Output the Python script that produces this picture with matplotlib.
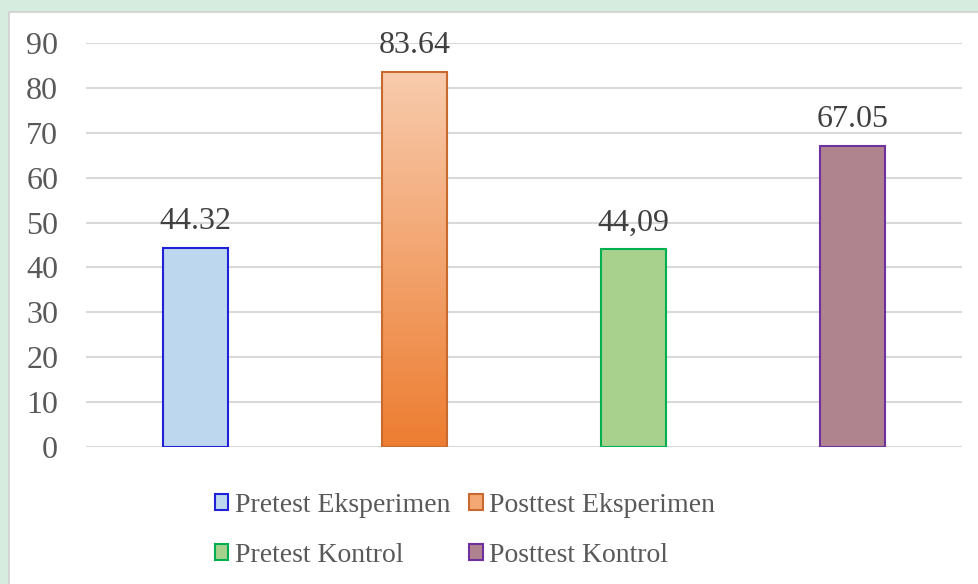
import numpy as np
import matplotlib
matplotlib.use("Agg")
import matplotlib.pyplot as plt
from matplotlib.colors import LinearSegmentedColormap
from matplotlib.patches import Rectangle, Patch

kategori = ["Pretest Eksperimen", "Posttest Eksperimen", "Pretest Kontrol", "Posttest Kontrol"]
nilai = [44.32, 83.64, 44.09, 67.05]
label_nilai = ["44.32", "83.64", "44,09", "67.05"]
yticks = [0, 10, 20, 30, 40, 50, 60, 70, 80, 90]

warna_isi = ["#BDD7EE", "#F4A874", "#A9D18E", "#B0848E"]
warna_tepi = ["#2020D8", "#C8692E", "#00B050", "#7030A0"]

plt.rcParams["font.family"] = ["Liberation Serif", "DejaVu Serif"]

W, H = 979, 584
fig = plt.figure(figsize=(W / 100, H / 100), dpi=100)
fig.patch.set_facecolor("#D5ECDF")

# kotak grafik (putih, tepi abu)
fig.patches.append(Rectangle((9 / W, -0.01), 1.0, 1 - 12 / H + 0.01,
                             transform=fig.transFigure, facecolor="white",
                             edgecolor="#D0D0D0", linewidth=1.2, zorder=-5))

ax = fig.add_axes([86 / W, 1 - 447 / H, (962 - 86) / W, (447 - 43) / H])
ax.set_facecolor("none")

x = np.arange(len(kategori))
bars = ax.bar(x, nilai, width=0.297, color=warna_isi, edgecolor=warna_tepi,
              linewidth=1.5, zorder=3)

# gradasi untuk batang posttest eksperimen
grad_cmap = LinearSegmentedColormap.from_list("oranye", ["#ED7D31", "#F8CBAD"])
b = bars[1]
gradien = np.linspace(0, 1, 256).reshape(-1, 1)
img = ax.imshow(gradien, cmap=grad_cmap, origin="lower", aspect="auto",
                extent=[b.get_x(), b.get_x() + b.get_width(), 0, b.get_height()],
                zorder=2.5)
img.set_clip_path(b)
b.set_facecolor("none")

for xi, v, lab in zip(x, nilai, label_nilai):
    ax.annotate(lab, (xi, v), xytext=(0, 13.5), textcoords="offset points",
                ha="center", va="baseline", fontsize=23, color="#404040")

ax.set_xlim(-0.5, len(kategori) - 0.5)
ax.set_ylim(0, 90)
ax.set_yticks(yticks)
ax.set_xticks([])
ax.tick_params(axis="y", length=0, pad=20, labelsize=23, labelcolor="#595959")
ax.grid(axis="y", color="#D9D9D9", linewidth=1.5, zorder=0)
ax.set_axisbelow(True)
for s in ax.spines.values():
    s.set_visible(False)

handles = [Patch(facecolor=f, edgecolor=e, linewidth=1.5) for f, e in zip(warna_isi, warna_tepi)]
urutan = [0, 2, 1, 3]  # isi legenda per baris
fig.legend([handles[i] for i in urutan], [kategori[i] for i in urutan],
           loc="center", bbox_to_anchor=(465 / W, 1 - 530 / H),
           ncol=2, frameon=False, fontsize=20, labelcolor="#595959",
           handlelength=0.5, handleheight=0.5, handletextpad=0.22,
           columnspacing=0.7, labelspacing=0.9)

fig.savefig("out.png", dpi=100)
